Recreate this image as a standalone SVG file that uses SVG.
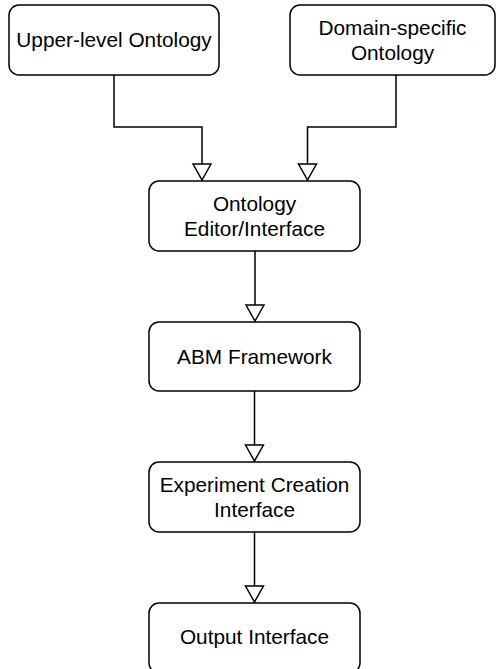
<svg xmlns="http://www.w3.org/2000/svg" width="496" height="669" viewBox="0 0 496 669">
  <style>
    .box { fill: #ffffff; stroke: #000000; stroke-width: 1.5; }
    .label { font-family: "Liberation Sans", Arial, sans-serif; font-size: 20.8px; fill: #000000; text-anchor: middle; }
    .edge { fill: none; stroke: #000000; stroke-width: 1.5; marker-end: url(#hollow); }
  </style>
  <defs>
    <!-- open triangular arrowhead, drawn along +x and rotated to the line -->
    <marker id="hollow" markerUnits="userSpaceOnUse" markerWidth="20" markerHeight="20" refX="17" refY="9" orient="auto" overflow="visible">
      <path d="M0,0 L16,9 L0,18 Z" fill="#ffffff" stroke="#000000" stroke-width="1.5" stroke-linejoin="miter"/>
    </marker>
  </defs>
  <rect width="496" height="669" fill="#ffffff"/>

  <g id="connectors">
    <path class="edge" d="M114,75 V127 H202 V181"/>
    <path class="edge" d="M396,75 V127 H307.5 V181"/>
    <path class="edge" d="M255,251 V322"/>
    <path class="edge" d="M254.5,391 V462"/>
    <path class="edge" d="M254.5,532 V603"/>
  </g>

  <g id="upper-level-ontology">
    <rect class="box" x="9" y="5" width="210" height="70" rx="10"/>
    <text class="label" x="114" y="47">Upper-level Ontology</text>
  </g>

  <g id="domain-specific-ontology">
    <rect class="box" x="290" y="5" width="205" height="70" rx="10"/>
    <text class="label" x="392.5" y="35">Domain-specific</text>
    <text class="label" x="392.5" y="60">Ontology</text>
  </g>

  <g id="ontology-editor">
    <rect class="box" x="149" y="181" width="211" height="70" rx="10"/>
    <text class="label" x="254.5" y="211">Ontology</text>
    <text class="label" x="254.5" y="236">Editor/Interface</text>
  </g>

  <g id="abm-framework">
    <rect class="box" x="149" y="322" width="211" height="69" rx="10"/>
    <text class="label" x="254.5" y="364">ABM Framework</text>
  </g>

  <g id="experiment-creation">
    <rect class="box" x="149" y="462" width="211" height="70" rx="10"/>
    <text class="label" x="254.5" y="492">Experiment Creation</text>
    <text class="label" x="254.5" y="517">Interface</text>
  </g>

  <g id="output-interface">
    <rect class="box" x="149" y="603" width="211" height="70" rx="10"/>
    <text class="label" x="254.5" y="644">Output Interface</text>
  </g>
</svg>
